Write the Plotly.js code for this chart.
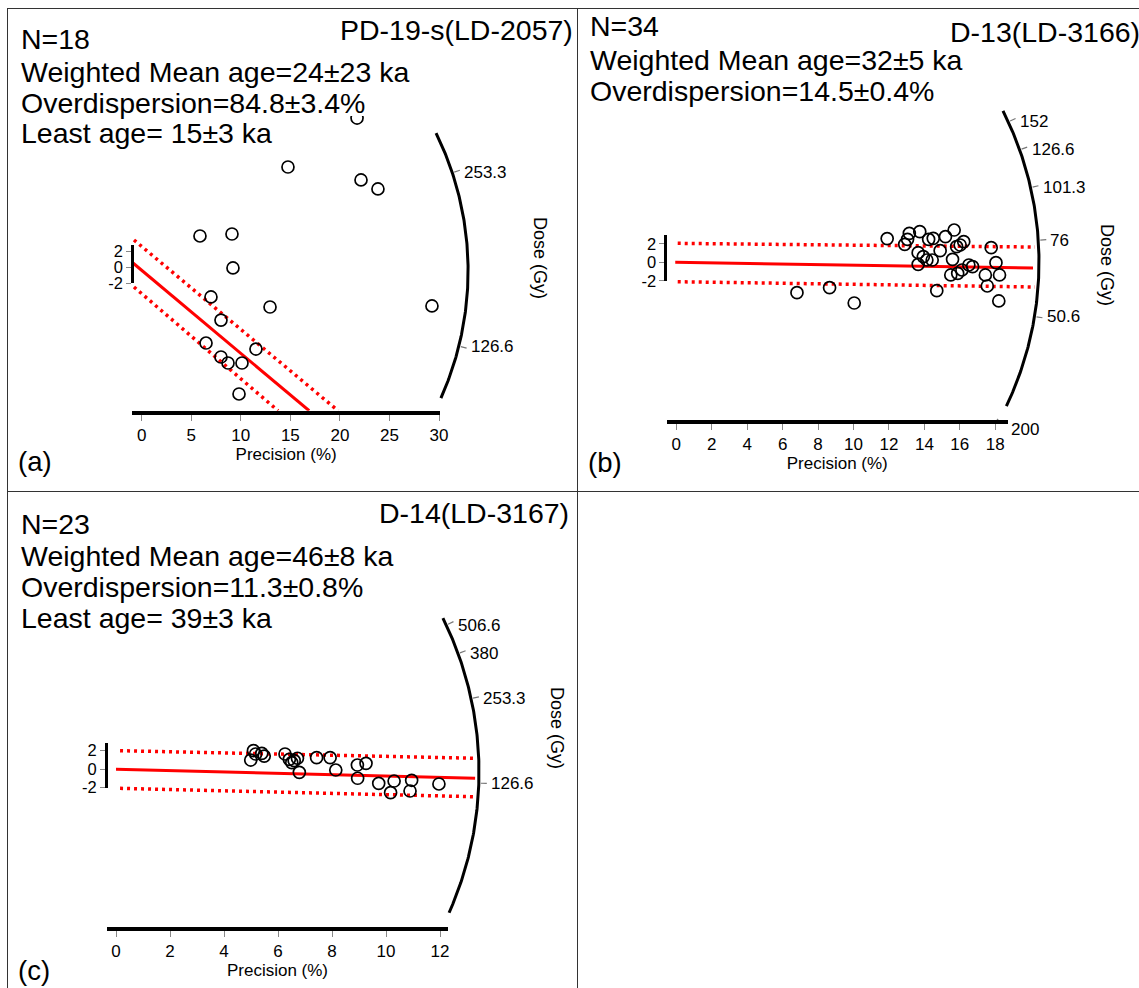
<!DOCTYPE html>
<html><head><meta charset="utf-8">
<script src="https://cdn.plot.ly/plotly-3.0.1.min.js"></script>
<style>html,body{margin:0;padding:0;background:#fff;}#chart{width:1139px;height:988px;}</style>
</head><body><div id="chart"></div>
<script>
// ================= DATA =================
// Panel (a) PD-19-s(LD-2057)
const aTitle = 'PD-19-s(LD-2057)';
const aStats = ['N=18', 'Weighted Mean age=24±23 ka', 'Overdispersion=84.8±3.4%', 'Least age= 15±3 ka'];
const aPrecision = [21.73, 14.76, 22.13, 23.84, 5.88, 9.11, 9.21, 6.99, 12.95, 29.29, 8.00, 6.49, 11.53, 8.00, 8.71, 10.12, 9.82, 10.12];
const aZ         = [18.92, 12.72, 11.08, 9.94, 3.99, 4.24, -0.06, -3.73, -5.00, -4.87, -6.65, -9.56, -10.32, -11.33, -12.09, -12.09, -16.01, -19.20];
const aCentralX = [-0.88, 16.9],  aCentralZ = [0.57, -18.13];
const aUpperX   = [-0.78, 19.81], aUpperZ   = [3.48, -18.13];
const aLowerX   = [-0.78, 13.76], aLowerZ   = [-2.47, -18.13];
const aPrecTicks = [0, 5, 10, 15, 20, 25, 30];
const aDoseTicks = [253.3, 126.6];
const aRefDose = 172.8;

// Panel (b) D-13(LD-3166)
const bTitle = 'D-13(LD-3166)';
const bStats = ['N=34', 'Weighted Mean age=32±5 ka', 'Overdispersion=14.5±0.4%'];
const bPrecision = [6.81, 8.65, 10.04, 11.90, 12.89, 13.05, 13.15, 13.74, 13.65, 13.65, 13.94, 14.14, 14.24, 14.50, 14.44, 14.89, 14.70, 15.19, 15.68, 15.59, 15.82, 16.02, 16.22, 15.49, 15.88, 16.12, 16.51, 16.72, 17.44, 17.55, 17.77, 18.04, 18.24, 18.20];
const bZ         = [-3.28, -2.74, -4.40, 2.56, 1.94, 2.48, 3.13, 3.31, 1.04, -0.22, 0.61, 0.25, 2.48, 2.59, 0.25, 1.26, -3.07, 2.77, 3.49, 0.32, 1.69, 1.87, 2.23, -1.37, -1.19, -0.83, -0.29, -0.47, -1.37, -2.56, 1.58, -0.04, -1.37, -4.18];
const bCentralX = [-0.06, 20.13], bCentralZ = [0.0, -0.62];
const bUpperX   = [0.08, 20.24],  bUpperZ   = [2.05, 1.65];
const bLowerX   = [0.08, 20.24],  bLowerZ   = [-2.10, -2.67];
const bPrecTicks = [0, 2, 4, 6, 8, 10, 12, 14, 16, 18];
const bDoseTicks = [152, 126.6, 101.3, 76, 50.6];
const bRefDose = 67.6;
const bExtraLabel = '200';

// Panel (c) D-14(LD-3167)
const cTitle = 'D-14(LD-3167)';
const cStats = ['N=23', 'Weighted Mean age=46±8 ka', 'Overdispersion=11.3±0.8%', 'Least age= 39±3 ka'];
const cPrecision = [4.99, 5.09, 5.17, 5.40, 5.49, 6.26, 6.42, 6.51, 6.72, 6.79, 7.43, 7.93, 8.14, 8.94, 8.95, 9.26, 9.73, 10.17, 10.30, 10.89, 10.95, 11.96, 6.60];
const cZ         = [0.97, 1.98, 1.62, 1.69, 1.40, 1.62, 1.05, 0.68, 1.16, -0.36, 1.22, 1.22, -0.11, 0.43, -1.00, 0.61, -1.55, -2.56, -1.30, -2.38, -1.22, -1.62, 0.90];
const cCentralX = [0.0, 13.3],  cCentralZ = [-0.03, -1.00];
const cUpperX   = [0.15, 13.3], cUpperZ   = [1.98, 1.16];
const cLowerX   = [0.15, 13.3], cLowerZ   = [-2.09, -3.00];
const cPrecTicks = [0, 2, 4, 6, 8, 10, 12];
const cDoseTicks = [506.6, 380, 253.3, 126.6];
const cRefDose = 141.9;

const zTicks = [-2, 0, 2];
const panelLetters = ['(a)', '(b)', '(c)'];

// ================= GEOMETRY (pixels) =================
const W = 1139, H = 988;
const FONT = 'Liberation Sans, Arial, Helvetica, sans-serif';
const geom = {
  a: {x0:141.7, zy0:267.5, sx:9.91, sz:7.9, plot:[118,575,116,410.7], prec:[132.3,440], zbarX:132.3, zbarTop:2.8,
      arc:{cx:156.3, cy:270.8, r:311.8, a1:-26.2, a2:24.1},
      title:[575,30], stats:[19,[39,72,103,133]], letter:[16,461], dose:[540,258]},
  b: {x0:676.3, zy0:262.3, sx:17.72, sz:9.25, plot:[655,1139,100,420], prec:[666.5,1008], zbarX:665.4, zbarTop:2.9,
      arc:{cx:704, cy:262, r:335, a1:-26.8, a2:25.5},
      title:[1142,32], stats:[588,[26,60,91]], letter:[586,462], dose:[1107,265], extra:[[997,419],[1003,425],[1009,429]]},
  c: {x0:116, zy0:769, sx:27, sz:9.25, plot:[95,575,605,927], prec:[107,448], zbarX:106, zbarTop:2.84,
      arc:{cx:133, cy:772, r:346, a1:-26.4, a2:24.0},
      title:[571,513], stats:[19,[524,556,587,618]], letter:[16,970], dose:[557,728]}
};

const traces = [];
const layout = {
  width:W, height:H, margin:{l:0,r:0,t:0,b:0}, autosize:false,
  paper_bgcolor:'#ffffff', plot_bgcolor:'rgba(0,0,0,0)', showlegend:false,
  font:{family:FONT, color:'#000'}, annotations:[], shapes:[], hovermode:false
};
const pxX = px => px / W, pxY = py => 1 - py / H;
const axn = n => (n === 1 ? '' : String(n));

function addText(text, px, py, size, xanchor, extra) {
  layout.annotations.push(Object.assign({text:text, xref:'paper', yref:'paper', x:pxX(px), y:pxY(py),
    xanchor:xanchor, yanchor:'middle', showarrow:false, font:{size:size, family:FONT, color:'#000'}}, extra || {}));
}

function addPanel(n, g, d) {
  const m = axn(n), p = axn(n + 1);
  const [L, R, T, B] = g.plot;
  const toX = px => (px - g.x0) / g.sx;
  const toZ = py => (g.zy0 - py) / g.sz;
  const noGrid = {showgrid:false, zeroline:false, fixedrange:true};
  layout['xaxis' + m] = Object.assign({domain:[pxX(L), pxX(R)], range:[toX(L), toX(R)], visible:false, anchor:'y' + m}, noGrid);
  layout['yaxis' + m] = Object.assign({domain:[pxY(B), pxY(T)], range:[toZ(B), toZ(T)], visible:false, anchor:'x' + m}, noGrid);
  layout['xaxis' + p] = Object.assign({domain:[pxX(g.prec[0]), pxX(g.prec[1])], range:[toX(g.prec[0]), toX(g.prec[1])],
    anchor:'y' + m, showline:true, linewidth:4, linecolor:'#000', ticks:'outside', ticklen:6, tickwidth:1, tickcolor:'#888',
    tickvals:d.precTicks, ticktext:d.precTicks.map(String), tickfont:{size:17, family:FONT, color:'#000'},
    title:{text:'Precision (%)', font:{size:17, family:FONT, color:'#000'}, standoff:2}}, noGrid);
  const zT = g.zy0 - g.zbarTop * g.sz, zB = g.zy0 + 2 * g.sz;
  layout['yaxis' + p] = Object.assign({domain:[pxY(zB), pxY(zT)], range:[-2, g.zbarTop], anchor:'free', position:pxX(g.zbarX),
    side:'left', showline:true, linewidth:3, linecolor:'#000', ticks:'outside', ticklen:5, tickwidth:1, tickcolor:'#888',
    tickvals:zTicks, ticktext:zTicks.map(String), tickfont:{size:16.5, family:FONT, color:'#000'}}, noGrid);

  const xm = 'x' + m, ym = 'y' + m, xp = 'x' + p, yp = 'y' + p;
  // dummy traces so the visible axes exist
  traces.push({type:'scatter', x:[d.precTicks[0]], y:[0], xaxis:xp, yaxis:ym, mode:'markers', marker:{opacity:0}, hoverinfo:'skip'});
  traces.push({type:'scatter', x:[d.precTicks[0]], y:[0], xaxis:xp, yaxis:yp, mode:'markers', marker:{opacity:0}, hoverinfo:'skip'});

  // arc
  const ax = [], az = [];
  for (let i = 0; i <= 160; i++) {
    const a = (g.arc.a1 + (g.arc.a2 - g.arc.a1) * i / 160) * Math.PI / 180;
    ax.push(toX(g.arc.cx + g.arc.r * Math.cos(a)));
    az.push(toZ(g.arc.cy + g.arc.r * Math.sin(a)));
  }
  traces.push({type:'scatter', x:ax, y:az, xaxis:xm, yaxis:ym, mode:'lines', line:{color:'#000', width:3}, hoverinfo:'skip'});

  // dose ticks on arc (radial scale: z/x = ln D - ln D_ref)
  const tx = [], tz = [];
  d.doseTicks.forEach(D => {
    const ratio = Math.log(D) - Math.log(d.refDose);
    let dx = g.sx, dy = -ratio * g.sz; const len = Math.hypot(dx, dy); dx /= len; dy /= len;
    const ox = g.x0 - g.arc.cx, oy = g.zy0 - g.arc.cy;
    const b = dx * ox + dy * oy, c = ox * ox + oy * oy - g.arc.r * g.arc.r;
    const t = -b + Math.sqrt(b * b - c);
    const Px = g.x0 + t * dx, Py = g.zy0 + t * dy;
    const ux = (Px - g.arc.cx) / g.arc.r, uy = (Py - g.arc.cy) / g.arc.r;
    tx.push(toX(Px + 2 * ux), toX(Px + 8 * ux), null);
    tz.push(toZ(Py + 2 * uy), toZ(Py + 8 * uy), null);
    addText(String(D), Px + 10, Py, 17, 'left');
  });
  if (g.extra) {
    tx.push(toX(g.extra[0][0]), toX(g.extra[1][0]), null);
    tz.push(toZ(g.extra[0][1]), toZ(g.extra[1][1]), null);
    addText(d.extraLabel, g.extra[2][0], g.extra[2][1], 17, 'left');
  }
  traces.push({type:'scatter', x:tx, y:tz, xaxis:xm, yaxis:ym, mode:'lines', line:{color:'#777', width:1.2}, hoverinfo:'skip', cliponaxis:false});

  // central line and +-2 bands
  const band = (xs, zs) => ({type:'scatter', x:xs, y:zs, xaxis:xm, yaxis:ym, mode:'lines', line:{color:'#ff0000', width:3.5, dash:'3px,4px'}, hoverinfo:'skip'});
  traces.push(band(d.upperX, d.upperZ));
  traces.push(band(d.lowerX, d.lowerZ));
  traces.push({type:'scatter', x:d.centralX, y:d.centralZ, xaxis:xm, yaxis:ym, mode:'lines', line:{color:'#ff0000', width:3}, hoverinfo:'skip'});

  // data points
  traces.push({type:'scatter', x:d.prec, y:d.z, xaxis:xm, yaxis:ym, mode:'markers',
    marker:{symbol:'circle', size:12, color:'rgba(0,0,0,0)', line:{color:'#000', width:1.7}}, hoverinfo:'skip'});

  // texts
  addText(d.title, g.title[0], g.title[1], 28.5, 'right');
  d.stats.forEach((s, i) => addText(s, g.stats[0], g.stats[1][i], 28.5, 'left'));
  addText(d.letter, g.letter[0], g.letter[1], 27.5, 'left');
  addText('Dose (Gy)', g.dose[0], g.dose[1], 18, 'center', {textangle:90});
}

addPanel(1, geom.a, {prec:aPrecision, z:aZ, centralX:aCentralX, centralZ:aCentralZ, upperX:aUpperX, upperZ:aUpperZ, lowerX:aLowerX, lowerZ:aLowerZ,
  precTicks:aPrecTicks, doseTicks:aDoseTicks, refDose:aRefDose, title:aTitle, stats:aStats, letter:panelLetters[0]});
addPanel(3, geom.b, {prec:bPrecision, z:bZ, centralX:bCentralX, centralZ:bCentralZ, upperX:bUpperX, upperZ:bUpperZ, lowerX:bLowerX, lowerZ:bLowerZ,
  precTicks:bPrecTicks, doseTicks:bDoseTicks, refDose:bRefDose, extraLabel:bExtraLabel, title:bTitle, stats:bStats, letter:panelLetters[1]});
addPanel(5, geom.c, {prec:cPrecision, z:cZ, centralX:cCentralX, centralZ:cCentralZ, upperX:cUpperX, upperZ:cUpperZ, lowerX:cLowerX, lowerZ:cLowerZ,
  precTicks:cPrecTicks, doseTicks:cDoseTicks, refDose:cRefDose, title:cTitle, stats:cStats, letter:panelLetters[2]});

// panel frame lines
const frame = {type:'line', xref:'paper', yref:'paper', line:{color:'#333', width:1}};
layout.shapes.push(Object.assign({x0:pxX(7), x1:1, y0:pxY(8.5), y1:pxY(8.5)}, frame));
layout.shapes.push(Object.assign({x0:pxX(7.5), x1:pxX(7.5), y0:pxY(8.5), y1:0}, frame));
layout.shapes.push(Object.assign({x0:pxX(577.5), x1:pxX(577.5), y0:pxY(8.5), y1:0}, frame));
layout.shapes.push(Object.assign({x0:pxX(7), x1:1, y0:pxY(491.5), y1:pxY(491.5)}, frame));

Plotly.newPlot('chart', traces, layout, {staticPlot:true, displayModeBar:false});
</script></body></html>
